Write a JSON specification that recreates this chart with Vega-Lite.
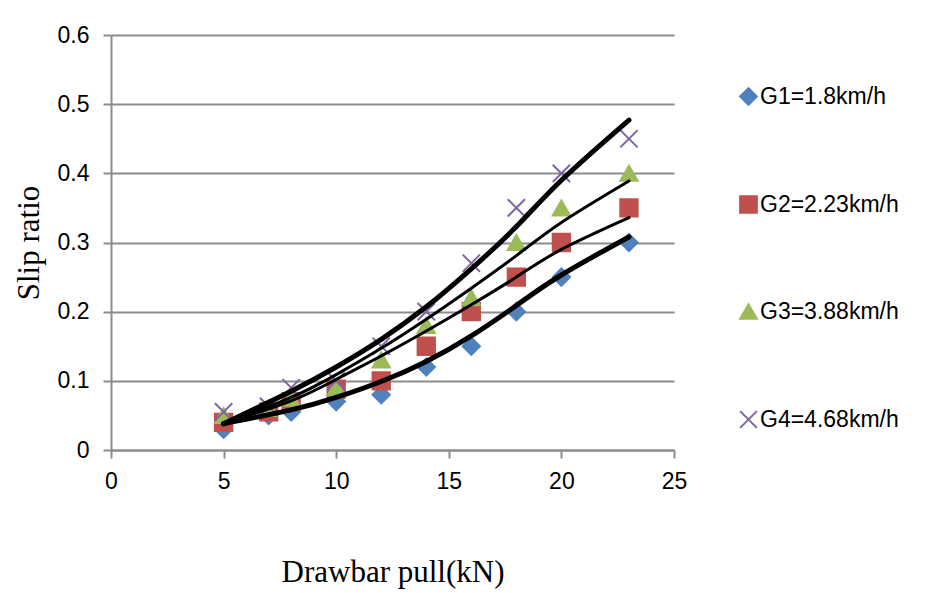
{
  "$schema": "https://vega.github.io/schema/vega-lite/v6.json",
  "width": 563,
  "height": 415,
  "autosize": {"type": "none"},
  "padding": {"left": 111, "top": 35, "right": 258, "bottom": 143},
  "background": "white",
  "config": {
    "view": {"stroke": null},
    "axis": {
      "labelFont": "Liberation Sans",
      "labelFontSize": 23,
      "labelColor": "#000000",
      "titleFont": "Liberation Serif",
      "titleFontSize": 31,
      "titleFontWeight": "normal",
      "titleColor": "#000000",
      "domainColor": "#8c8c8c",
      "domainWidth": 2,
      "tickColor": "#8c8c8c",
      "tickWidth": 2,
      "tickSize": 8,
      "gridColor": "#8c8c8c",
      "gridWidth": 2
    },
    "legend": {
      "labelFont": "Liberation Sans",
      "labelFontSize": 23,
      "labelColor": "#000000"
    }
  },
  "datasets": {
    "obs": [
      {"series": "G1=1.8km/h", "x": 5, "y": 0.03},
      {"series": "G1=1.8km/h", "x": 7, "y": 0.05},
      {"series": "G1=1.8km/h", "x": 8, "y": 0.055},
      {"series": "G1=1.8km/h", "x": 10, "y": 0.07},
      {"series": "G1=1.8km/h", "x": 12, "y": 0.08},
      {"series": "G1=1.8km/h", "x": 14, "y": 0.12},
      {"series": "G1=1.8km/h", "x": 16, "y": 0.15},
      {"series": "G1=1.8km/h", "x": 18, "y": 0.2},
      {"series": "G1=1.8km/h", "x": 20, "y": 0.25},
      {"series": "G1=1.8km/h", "x": 23, "y": 0.3},
      {"series": "G2=2.23km/h", "x": 5, "y": 0.04},
      {"series": "G2=2.23km/h", "x": 7, "y": 0.055},
      {"series": "G2=2.23km/h", "x": 8, "y": 0.07},
      {"series": "G2=2.23km/h", "x": 10, "y": 0.088},
      {"series": "G2=2.23km/h", "x": 12, "y": 0.1},
      {"series": "G2=2.23km/h", "x": 14, "y": 0.15},
      {"series": "G2=2.23km/h", "x": 16, "y": 0.2},
      {"series": "G2=2.23km/h", "x": 18, "y": 0.25},
      {"series": "G2=2.23km/h", "x": 20, "y": 0.3},
      {"series": "G2=2.23km/h", "x": 23, "y": 0.35},
      {"series": "G3=3.88km/h", "x": 5, "y": 0.05},
      {"series": "G3=3.88km/h", "x": 7, "y": 0.06},
      {"series": "G3=3.88km/h", "x": 8, "y": 0.075},
      {"series": "G3=3.88km/h", "x": 10, "y": 0.09},
      {"series": "G3=3.88km/h", "x": 12, "y": 0.13},
      {"series": "G3=3.88km/h", "x": 14, "y": 0.18},
      {"series": "G3=3.88km/h", "x": 16, "y": 0.22},
      {"series": "G3=3.88km/h", "x": 18, "y": 0.3},
      {"series": "G3=3.88km/h", "x": 20, "y": 0.35},
      {"series": "G3=3.88km/h", "x": 23, "y": 0.4},
      {"series": "G4=4.68km/h", "x": 5, "y": 0.055},
      {"series": "G4=4.68km/h", "x": 7, "y": 0.063},
      {"series": "G4=4.68km/h", "x": 8, "y": 0.09},
      {"series": "G4=4.68km/h", "x": 10, "y": 0.1},
      {"series": "G4=4.68km/h", "x": 12, "y": 0.15},
      {"series": "G4=4.68km/h", "x": 14, "y": 0.2},
      {"series": "G4=4.68km/h", "x": 16, "y": 0.27},
      {"series": "G4=4.68km/h", "x": 18, "y": 0.35},
      {"series": "G4=4.68km/h", "x": 20, "y": 0.4},
      {"series": "G4=4.68km/h", "x": 23, "y": 0.45}
    ],
    "trend": [
      {"fit": "G1", "x": 5, "y": 0.038},
      {"fit": "G1", "x": 8, "y": 0.058},
      {"fit": "G1", "x": 10, "y": 0.076},
      {"fit": "G1", "x": 12, "y": 0.099},
      {"fit": "G1", "x": 14, "y": 0.128},
      {"fit": "G1", "x": 16, "y": 0.165},
      {"fit": "G1", "x": 18, "y": 0.209},
      {"fit": "G1", "x": 20, "y": 0.253},
      {"fit": "G1", "x": 23, "y": 0.308},
      {"fit": "G2", "x": 5, "y": 0.038},
      {"fit": "G2", "x": 8, "y": 0.071},
      {"fit": "G2", "x": 10, "y": 0.102},
      {"fit": "G2", "x": 12, "y": 0.136},
      {"fit": "G2", "x": 14, "y": 0.172},
      {"fit": "G2", "x": 16, "y": 0.21},
      {"fit": "G2", "x": 18, "y": 0.25},
      {"fit": "G2", "x": 20, "y": 0.29},
      {"fit": "G2", "x": 23, "y": 0.336},
      {"fit": "G3", "x": 5, "y": 0.038},
      {"fit": "G3", "x": 8, "y": 0.076},
      {"fit": "G3", "x": 10, "y": 0.109},
      {"fit": "G3", "x": 12, "y": 0.147},
      {"fit": "G3", "x": 14, "y": 0.189},
      {"fit": "G3", "x": 16, "y": 0.234},
      {"fit": "G3", "x": 18, "y": 0.281},
      {"fit": "G3", "x": 20, "y": 0.329},
      {"fit": "G3", "x": 23, "y": 0.389},
      {"fit": "G4", "x": 5, "y": 0.038},
      {"fit": "G4", "x": 8, "y": 0.085},
      {"fit": "G4", "x": 10, "y": 0.12},
      {"fit": "G4", "x": 12, "y": 0.16},
      {"fit": "G4", "x": 14, "y": 0.207},
      {"fit": "G4", "x": 16, "y": 0.262},
      {"fit": "G4", "x": 18, "y": 0.323},
      {"fit": "G4", "x": 20, "y": 0.39},
      {"fit": "G4", "x": 23, "y": 0.477}
    ]
  },
  "layer": [
    {
      "data": {"name": "obs"},
      "mark": {"type": "point", "filled": true, "size": 300, "strokeWidth": 2, "opacity": 1},
      "encoding": {
        "x": {
          "field": "x", "type": "quantitative",
          "scale": {"domain": [0, 25], "nice": false, "zero": false},
          "axis": {"values": [0, 5, 10, 15, 20, 25], "grid": false, "title": "Drawbar pull(kN)", "labelPadding": 12, "titlePadding": 64, "labelFlush": false}
        },
        "y": {
          "field": "y", "type": "quantitative",
          "scale": {"domain": [0, 0.6], "nice": false},
          "axis": {"values": [0, 0.1, 0.2, 0.3, 0.4, 0.5, 0.6], "format": ".1~f", "grid": true, "title": "Slip ratio", "labelPadding": 14, "titlePadding": 12, "labelFlush": false}
        },
        "color": {
          "field": "series", "type": "nominal",
          "scale": {"domain": ["G1=1.8km/h", "G2=2.23km/h", "G3=3.88km/h", "G4=4.68km/h"], "range": ["#4F81BD", "#C0504D", "#9BBB59", "#8064A2"]},
          "legend": {"title": null, "orient": "none", "legendX": 626, "legendY": 50, "padding": 0, "rowPadding": 83, "symbolSize": 280, "symbolStrokeWidth": 2, "labelOffset": 0, "symbolOpacity": 1}
        },
        "stroke": {
          "field": "series", "type": "nominal",
          "scale": {"domain": ["G1=1.8km/h", "G2=2.23km/h", "G3=3.88km/h", "G4=4.68km/h"], "range": ["#4F81BD", "#C0504D", "#9BBB59", "#8064A2"]},
          "legend": null
        },
        "shape": {
          "field": "series", "type": "nominal",
          "scale": {"domain": ["G1=1.8km/h", "G2=2.23km/h", "G3=3.88km/h", "G4=4.68km/h"], "range": ["diamond", "square", "triangle-up", "M-1,-1L1,1M-1,1L1,-1"]},
          "legend": null
        }
      }
    },
    {
      "data": {"name": "trend"},
      "transform": [{"filter": "datum.fit === 'G2' || datum.fit === 'G3'"}],
      "mark": {"type": "line", "color": "#000000", "strokeWidth": 3, "interpolate": "natural", "strokeCap": "round"},
      "encoding": {
        "x": {"field": "x", "type": "quantitative"},
        "y": {"field": "y", "type": "quantitative"},
        "detail": {"field": "fit", "type": "nominal"}
      }
    },
    {
      "data": {"name": "trend"},
      "transform": [{"filter": "datum.fit === 'G1' || datum.fit === 'G4'"}],
      "mark": {"type": "line", "color": "#000000", "strokeWidth": 5, "interpolate": "natural", "strokeCap": "round"},
      "encoding": {
        "x": {"field": "x", "type": "quantitative"},
        "y": {"field": "y", "type": "quantitative"},
        "detail": {"field": "fit", "type": "nominal"}
      }
    }
  ]
}
